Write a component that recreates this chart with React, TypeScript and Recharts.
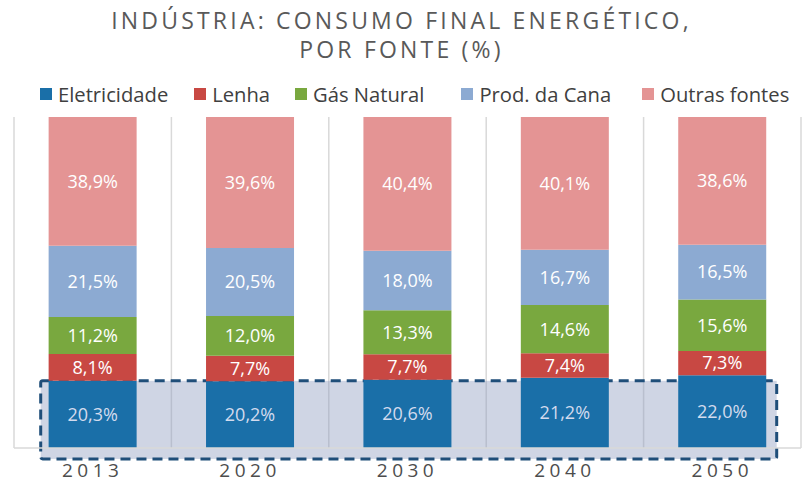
import React from 'react';
import { BarChart, Bar, XAxis, YAxis, CartesianGrid, LabelList, ReferenceArea } from 'recharts';

const years = ['2013', '2020', '2030', '2040', '2050'];
const eletricidade = [20.3, 20.2, 20.6, 21.2, 22.0];
const lenha = [8.1, 7.7, 7.7, 7.4, 7.3];
const gasNatural = [11.2, 12.0, 13.3, 14.6, 15.6];
const prodCana = [21.5, 20.5, 18.0, 16.7, 16.5];
const outras = [38.9, 39.6, 40.4, 40.1, 38.6];

const highlightTop = 20.3;
const highlightBottom = -3.3;

const series = [
  { key: 'eletricidade', name: 'Eletricidade', values: eletricidade, color: '#1a6fa8', label: '#d3dbee' },
  { key: 'lenha', name: 'Lenha', values: lenha, color: '#c84843', label: '#ffffff' },
  { key: 'gasNatural', name: 'Gás Natural', values: gasNatural, color: '#79a83f', label: '#ffffff' },
  { key: 'prodCana', name: 'Prod. da Cana', values: prodCana, color: '#8caad2', label: '#ffffff' },
  { key: 'outras', name: 'Outras fontes', values: outras, color: '#e49494', label: '#ffffff' },
];

const data = years.map((year, i) => {
  const row: any = { year };
  series.forEach((s) => { row[s.key] = s.values[i]; });
  return row;
});

const FONT = '"Open Sans", sans-serif';
const fmt = (v: any) => Number(v).toFixed(1).replace('.', ',') + '%';

const INSET_L = 26.7;
const INSET_R = 24.3;

const FillShape = (p: any) => (
  <rect x={p.x + INSET_L} y={p.y} width={p.width - INSET_L - INSET_R} height={p.height} fill="#8c9abf" fillOpacity={0.42} />
);
const BorderShape = (p: any) => (
  <rect x={p.x + INSET_L} y={p.y} width={p.width - INSET_L - INSET_R} height={p.height} fill="none" stroke="#1f4e79" strokeWidth={3} strokeDasharray="10 6" rx={2} />
);

export default function App() {
  return (
    <div style={{ position: 'absolute', left: 0, top: 0, width: 803, height: 485, background: '#fff', fontFamily: FONT, overflow: 'hidden' }}>
      <div style={{ position: 'absolute', top: 6, left: 0, width: 803, textAlign: 'center', color: '#595959', fontSize: 23, letterSpacing: 3.2, lineHeight: '29px' }}>
        <div>INDÚSTRIA: CONSUMO FINAL ENERGÉTICO,</div>
        <div>POR FONTE (%)</div>
      </div>
      <div style={{ position: 'absolute', top: 80, left: 40, width: 763, display: 'flex', alignItems: 'center', color: '#404040', fontSize: 20.2, whiteSpace: 'nowrap' }}>
        {series.map((s, i) => (
          <div key={s.key} style={{ display: 'flex', alignItems: 'center', marginRight: [26, 25, 37, 31, 0][i] }}>
            <span style={{ display: 'inline-block', width: 12, height: 12, background: s.color, marginRight: 6 }} />
            <span>{s.name}</span>
          </div>
        ))}
      </div>
      <BarChart
        width={803}
        height={485}
        data={data}
        margin={{ top: 117, right: 2, left: 14, bottom: 0 }}
        barCategoryGap="22%"
        style={{ position: 'absolute', left: 0, top: 0 }}
      >
        <CartesianGrid
          horizontal={false}
          stroke="#d9d9d9"
          strokeWidth={1.5}
          verticalCoordinatesGenerator={({ offset }: any) =>
            years.concat(['end']).map((_, i) => offset.left + (i * offset.width) / years.length)
          }
        />
        <XAxis
          dataKey="year"
          axisLine={{ stroke: '#d9d9d9', strokeWidth: 1.5 }}
          tickLine={false}
          height={37}
          tickMargin={10}
          tick={{ fill: '#4d4d4d', fontSize: 19, letterSpacing: 4.5, fontFamily: FONT, fontWeight: 500 }}
        />
        <YAxis type="number" domain={[0, 100]} hide />
        <ReferenceArea x1="2013" x2="2050" y1={highlightBottom} y2={highlightTop} ifOverflow="visible" shape={FillShape} />
        {series.map((s) => (
          <Bar key={s.key} dataKey={s.key} name={s.name} stackId="a" fill={s.color} isAnimationActive={false}>
            <LabelList dataKey={s.key} position="center" formatter={fmt} fill={s.label} fontSize={18} fontFamily={FONT} />
          </Bar>
        ))}
        <ReferenceArea x1="2013" x2="2050" y1={highlightBottom} y2={highlightTop} ifOverflow="visible" shape={BorderShape} />
      </BarChart>
    </div>
  );
}
